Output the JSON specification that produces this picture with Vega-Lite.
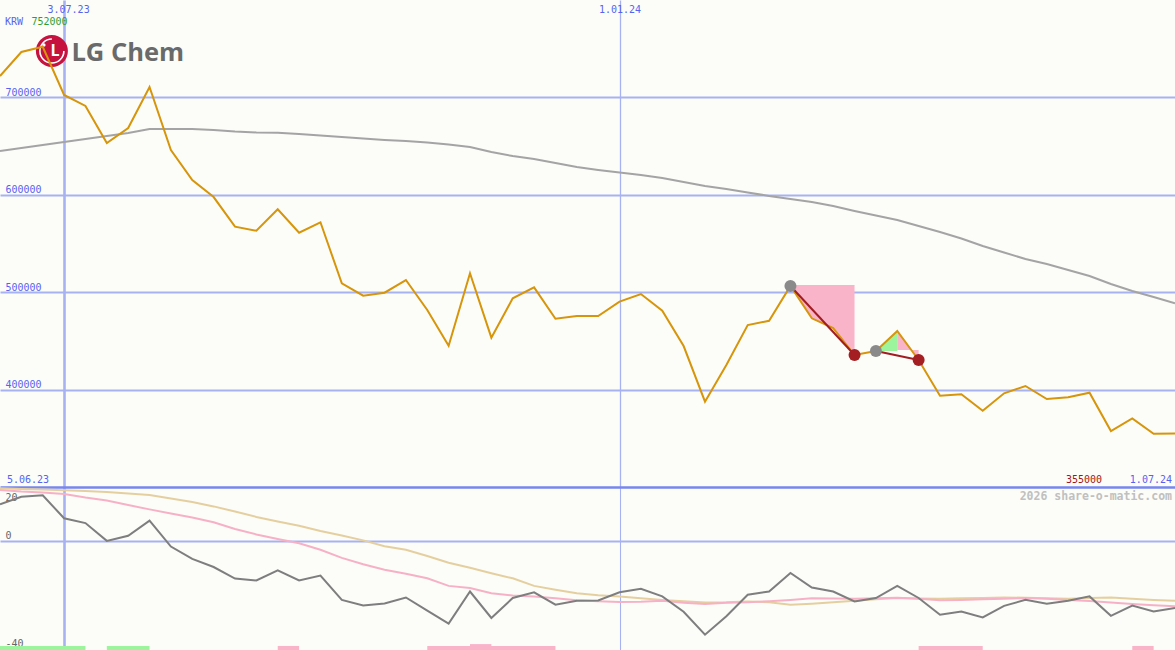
{
  "$schema": "https://vega.github.io/schema/vega-lite/v6.json",
  "padding": 0,
  "spacing": 0,
  "bounds": "flush",
  "background": "#fcfdf8",
  "config": {
    "view": {"stroke": null}
  },
  "datasets": {
    "weekly": [
      {"date": "2023-06-12", "price": 722000, "ma": 645000, "osc": 13.6, "avg1": 18.9, "avg2": 19.5},
      {"date": "2023-06-19", "price": 746600, "ma": 648000, "osc": 16.4, "avg1": 18.3, "avg2": 19.3},
      {"date": "2023-06-26", "price": 752000, "ma": 651100, "osc": 16.9, "avg1": 18.0, "avg2": 19.1},
      {"date": "2023-07-03", "price": 702500, "ma": 654200, "osc": 8.4, "avg1": 17.4, "avg2": 18.8},
      {"date": "2023-07-10", "price": 691200, "ma": 657300, "osc": 6.6, "avg1": 16.1, "avg2": 18.5},
      {"date": "2023-07-17", "price": 653200, "ma": 660400, "osc": 0.0, "avg1": 15.0, "avg2": 18.1},
      {"date": "2023-07-24", "price": 668600, "ma": 663500, "osc": 1.9, "avg1": 13.3, "avg2": 17.6},
      {"date": "2023-07-31", "price": 710700, "ma": 667600, "osc": 7.5, "avg1": 11.7, "avg2": 17.0},
      {"date": "2023-08-07", "price": 646000, "ma": 667600, "osc": -2.1, "avg1": 10.2, "avg2": 15.7},
      {"date": "2023-08-14", "price": 615200, "ma": 667600, "osc": -6.7, "avg1": 8.7, "avg2": 14.4},
      {"date": "2023-08-21", "price": 597700, "ma": 666500, "osc": -9.7, "avg1": 6.9, "avg2": 12.8},
      {"date": "2023-08-28", "price": 567300, "ma": 665000, "osc": -14.0, "avg1": 4.4, "avg2": 10.9},
      {"date": "2023-09-04", "price": 563100, "ma": 664000, "osc": -14.7, "avg1": 2.4, "avg2": 8.9},
      {"date": "2023-09-11", "price": 585100, "ma": 663800, "osc": -10.9, "avg1": 0.7, "avg2": 7.2},
      {"date": "2023-09-18", "price": 561100, "ma": 662400, "osc": -14.7, "avg1": -0.9, "avg2": 5.6},
      {"date": "2023-09-25", "price": 571800, "ma": 660900, "osc": -12.9, "avg1": -3.3, "avg2": 3.7},
      {"date": "2023-10-02", "price": 509100, "ma": 659300, "osc": -21.9, "avg1": -6.3, "avg2": 2.0},
      {"date": "2023-10-09", "price": 496400, "ma": 657800, "osc": -24.0, "avg1": -8.7, "avg2": 0.2},
      {"date": "2023-10-16", "price": 499500, "ma": 656300, "osc": -23.2, "avg1": -10.7, "avg2": -2.0},
      {"date": "2023-10-23", "price": 512500, "ma": 655200, "osc": -21.0, "avg1": -12.2, "avg2": -3.3},
      {"date": "2023-10-30", "price": 481700, "ma": 653700, "osc": -25.9, "avg1": -13.9, "avg2": -5.6},
      {"date": "2023-11-06", "price": 445100, "ma": 651600, "osc": -30.7, "avg1": -16.7, "avg2": -8.1},
      {"date": "2023-11-13", "price": 519400, "ma": 649100, "osc": -18.8, "avg1": -17.5, "avg2": -10.0},
      {"date": "2023-11-20", "price": 453300, "ma": 643900, "osc": -28.6, "avg1": -19.4, "avg2": -12.0},
      {"date": "2023-11-27", "price": 493700, "ma": 639800, "osc": -21.2, "avg1": -20.3, "avg2": -13.9},
      {"date": "2023-12-04", "price": 505000, "ma": 636800, "osc": -19.1, "avg1": -20.6, "avg2": -16.7},
      {"date": "2023-12-11", "price": 472800, "ma": 632600, "osc": -23.7, "avg1": -21.3, "avg2": -18.1},
      {"date": "2023-12-18", "price": 475600, "ma": 628500, "osc": -22.2, "avg1": -22.0, "avg2": -19.4},
      {"date": "2023-12-25", "price": 475600, "ma": 625500, "osc": -22.1, "avg1": -22.4, "avg2": -20.2},
      {"date": "2024-01-01", "price": 490300, "ma": 622900, "osc": -19.1, "avg1": -22.7, "avg2": -20.6},
      {"date": "2024-01-08", "price": 498100, "ma": 620300, "osc": -17.8, "avg1": -22.6, "avg2": -21.3},
      {"date": "2024-01-15", "price": 481000, "ma": 617200, "osc": -20.6, "avg1": -22.2, "avg2": -21.9},
      {"date": "2024-01-22", "price": 444700, "ma": 613100, "osc": -26.3, "avg1": -23.0, "avg2": -22.4},
      {"date": "2024-01-29", "price": 387600, "ma": 609000, "osc": -34.8, "avg1": -23.4, "avg2": -22.9},
      {"date": "2024-02-05", "price": 425300, "ma": 606000, "osc": -28.0, "avg1": -23.0, "avg2": -22.8},
      {"date": "2024-02-12", "price": 466300, "ma": 602400, "osc": -20.0, "avg1": -22.8, "avg2": -22.5},
      {"date": "2024-02-19", "price": 470700, "ma": 598800, "osc": -18.8, "avg1": -22.4, "avg2": -22.8},
      {"date": "2024-02-26", "price": 506400, "ma": 595700, "osc": -11.9, "avg1": -21.9, "avg2": -23.7},
      {"date": "2024-03-04", "price": 473200, "ma": 592600, "osc": -17.3, "avg1": -21.3, "avg2": -23.3},
      {"date": "2024-03-11", "price": 463200, "ma": 588500, "osc": -18.8, "avg1": -21.4, "avg2": -22.8},
      {"date": "2024-03-18", "price": 435500, "ma": 583400, "osc": -22.5, "avg1": -21.5, "avg2": -22.2},
      {"date": "2024-03-25", "price": 439600, "ma": 578800, "osc": -21.2, "avg1": -21.3, "avg2": -21.7},
      {"date": "2024-04-01", "price": 460200, "ma": 574100, "osc": -16.7, "avg1": -21.1, "avg2": -21.2},
      {"date": "2024-04-08", "price": 430400, "ma": 568000, "osc": -21.2, "avg1": -21.5, "avg2": -21.4},
      {"date": "2024-04-15", "price": 393700, "ma": 561800, "osc": -27.4, "avg1": -22.0, "avg2": -21.5},
      {"date": "2024-04-22", "price": 395200, "ma": 555100, "osc": -26.2, "avg1": -21.9, "avg2": -21.3},
      {"date": "2024-04-29", "price": 378300, "ma": 547400, "osc": -28.4, "avg1": -21.7, "avg2": -21.2},
      {"date": "2024-05-06", "price": 396200, "ma": 540800, "osc": -24.1, "avg1": -21.5, "avg2": -21.0},
      {"date": "2024-05-13", "price": 403700, "ma": 534100, "osc": -21.9, "avg1": -21.2, "avg2": -21.1},
      {"date": "2024-05-20", "price": 390300, "ma": 528900, "osc": -23.3, "avg1": -21.5, "avg2": -21.3},
      {"date": "2024-05-27", "price": 392100, "ma": 522800, "osc": -22.2, "avg1": -21.9, "avg2": -21.5},
      {"date": "2024-06-03", "price": 396800, "ma": 516600, "osc": -20.6, "avg1": -22.3, "avg2": -21.2},
      {"date": "2024-06-10", "price": 357500, "ma": 508400, "osc": -27.8, "avg1": -22.9, "avg2": -21.0},
      {"date": "2024-06-17", "price": 370500, "ma": 501200, "osc": -24.0, "avg1": -23.4, "avg2": -21.5},
      {"date": "2024-06-24", "price": 354700, "ma": 495100, "osc": -26.2, "avg1": -23.9, "avg2": -21.9},
      {"date": "2024-07-01", "price": 355000, "ma": 488600, "osc": -24.9, "avg1": -24.3, "avg2": -22.2}
    ],
    "zones": [
      {"date": "2024-02-26", "price": 506400, "base": 507500, "dir": "down", "seg": 1},
      {"date": "2024-03-04", "price": 473200, "base": 507500, "dir": "down", "seg": 1},
      {"date": "2024-03-11", "price": 463200, "base": 507500, "dir": "down", "seg": 1},
      {"date": "2024-03-18", "price": 435500, "base": 507500, "dir": "down", "seg": 1},
      {"date": "2024-03-25", "price": 439600, "base": 439600, "dir": "up", "seg": 2},
      {"date": "2024-04-01", "price": 460200, "base": 439600, "dir": "up", "seg": 2},
      {"date": "2024-04-01", "price": 460200, "base": 440600, "dir": "down", "seg": 3},
      {"date": "2024-04-08", "price": 430400, "base": 440600, "dir": "down", "seg": 3}
    ],
    "signals": [
      {"date": "2024-02-26", "price": 506400, "sig": 1, "role": "start"},
      {"date": "2024-03-18", "price": 435500, "sig": 1, "role": "end"},
      {"date": "2024-03-25", "price": 439600, "sig": 2, "role": "start"},
      {"date": "2024-04-08", "price": 430400, "sig": 2, "role": "end"}
    ],
    "strips": [
      {"date": "2023-06-12", "end": "2023-07-10", "dir": "up", "strength": 1},
      {"date": "2023-07-17", "end": "2023-07-31", "dir": "up", "strength": 1},
      {"date": "2023-09-11", "end": "2023-09-18", "dir": "down", "strength": 1},
      {"date": "2023-10-30", "end": "2023-12-11", "dir": "down", "strength": 1},
      {"date": "2023-11-13", "end": "2023-11-20", "dir": "down", "strength": 2},
      {"date": "2024-04-08", "end": "2024-04-29", "dir": "down", "strength": 1},
      {"date": "2024-06-17", "end": "2024-06-24", "dir": "down", "strength": 1}
    ],
    "logo": [
      {"date": "2023-06-29", "value": 747600, "text": "LG Chem", "mark": "L"}
    ]
  },
  "vconcat": [
    {
      "width": 1175,
      "height": 487,
      "encoding": {
        "x": {
          "field": "date",
          "type": "temporal",
          "scale": {
            "type": "utc",
            "domain": [
              {"year": 2023, "month": 6, "date": 12, "utc": true},
              {"year": 2024, "month": 7, "date": 1, "utc": true}
            ],
            "nice": false
          },
          "axis": {
            "orient": "top",
            "title": null,
            "values": [
              {"year": 2023, "month": 7, "date": 3, "utc": true},
              {"year": 2024, "month": 1, "date": 1, "utc": true}
            ],
            "format": "%-d.%m.%y",
            "domain": false,
            "ticks": false,
            "tickSize": 0,
            "labelPadding": -12.5,
            "labelBaseline": "alphabetic",
            "labelAlign": "center",
            "labelOffset": {"condition": {"test": "utcmonth(datum.value) === 6", "value": 4}, "value": 0},
            "labelColor": "#5763f0",
            "labelFont": "DejaVu Sans Mono",
            "labelFontSize": 10,
            "labelOverlap": false,
            "labelFlush": false,
            "grid": true,
            "gridColor": "#a6b2f2",
            "gridWidth": {"condition": {"test": "utcmonth(datum.value) === 6", "value": 2.6}, "value": 1.3}
          }
        }
      },
      "layer": [
        {
          "data": {"name": "weekly"},
          "mark": {"type": "line", "color": "#d6950a", "strokeWidth": 2, "clip": true, "opacity": 0},
          "encoding": {
            "y": {
              "field": "price",
              "type": "quantitative",
              "scale": {"domain": [300000, 800000], "nice": false, "zero": false},
              "axis": {
                "orient": "left",
                "title": null,
                "values": [400000, 500000, 600000, 700000],
                "format": "d",
                "domain": false,
                "ticks": false,
                "tickSize": 0,
                "labelPadding": -5,
                "labelAlign": "left",
                "labelBaseline": "bottom",
                "labelColor": "#5763f0",
                "labelFont": "DejaVu Sans Mono",
                "labelFontSize": 10,
                "labelOverlap": false,
                "labelFlush": false,
                "grid": true,
                "gridColor": "#a6b2f2",
                "gridWidth": 2
              }
            }
          }
        },
        {
          "data": {"name": "zones"},
          "mark": {"type": "area", "clip": true, "opacity": 1},
          "encoding": {
            "y": {"field": "price", "type": "quantitative", "stack": null},
            "y2": {"field": "base"},
            "color": {"field": "dir", "type": "nominal", "scale": {"domain": ["down", "up"], "range": ["#f9b4ca", "#9cf59c"]}, "legend": null},
            "detail": {"field": "seg"}
          }
        },
        {
          "data": {"name": "logo"},
          "mark": {"type": "point", "shape": "circle", "filled": true, "size": 1024, "color": "#c5123e", "opacity": 1, "strokeWidth": 0},
          "encoding": {
            "y": {"field": "value", "type": "quantitative"}
          }
        },
        {
          "data": {"name": "logo"},
          "mark": {"type": "arc", "theta": 1.5708, "theta2": 6.2832, "innerRadius": 11.2, "outerRadius": 12.8, "color": "#ffffff"},
          "encoding": {
            "y": {"field": "value", "type": "quantitative"}
          }
        },
        {
          "data": {"name": "logo"},
          "mark": {"type": "point", "shape": "circle", "filled": true, "size": 12, "color": "#ffffff", "opacity": 1, "xOffset": -8, "yOffset": -6},
          "encoding": {
            "y": {"field": "value", "type": "quantitative"}
          }
        },
        {
          "data": {"name": "logo"},
          "mark": {"type": "text", "font": "Open Sans", "fontWeight": 700, "fontSize": 16, "color": "#ffffff", "align": "left", "baseline": "alphabetic", "dx": -1.5, "dy": 4.5},
          "encoding": {
            "y": {"field": "value", "type": "quantitative"},
            "text": {"field": "mark"}
          }
        },
        {
          "data": {"name": "logo"},
          "mark": {"type": "text", "font": "Open Sans", "fontWeight": 700, "fontSize": 25.5, "color": "#6a6a6a", "align": "left", "baseline": "alphabetic", "dx": 19.5, "dy": 9.5},
          "encoding": {
            "y": {"field": "value", "type": "quantitative"},
            "text": {"field": "text"}
          }
        },
        {
          "data": {"name": "weekly"},
          "mark": {"type": "line", "color": "#a4a4a4", "strokeWidth": 2, "clip": true},
          "encoding": {
            "y": {"field": "ma", "type": "quantitative"}
          }
        },
        {
          "data": {"name": "weekly"},
          "mark": {"type": "line", "color": "#d6950a", "strokeWidth": 2, "clip": true},
          "encoding": {
            "y": {"field": "price", "type": "quantitative"}
          }
        },
        {
          "data": {"name": "signals"},
          "mark": {"type": "line", "color": "#a11d21", "strokeWidth": 2},
          "encoding": {
            "y": {"field": "price", "type": "quantitative"},
            "detail": {"field": "sig"}
          }
        },
        {
          "data": {"name": "signals"},
          "transform": [{"filter": "datum.role === 'start'"}],
          "mark": {"type": "point", "shape": "circle", "filled": true, "size": 144, "color": "#8a8a8a", "opacity": 1},
          "encoding": {
            "y": {"field": "price", "type": "quantitative"}
          }
        },
        {
          "data": {"name": "signals"},
          "transform": [{"filter": "datum.role === 'end'"}],
          "mark": {"type": "point", "shape": "circle", "filled": true, "size": 144, "color": "#a31f22", "opacity": 1},
          "encoding": {
            "y": {"field": "price", "type": "quantitative"}
          }
        },
        {
          "data": {"values": [{"date": "2023-06-12", "value": 800000, "text": "KRW"}]},
          "mark": {"type": "text", "font": "DejaVu Sans Mono", "fontSize": 10, "color": "#5763f0", "align": "left", "baseline": "alphabetic", "dx": 5, "dy": 25},
          "encoding": {
            "y": {"field": "value", "type": "quantitative"},
            "text": {"field": "text"}
          }
        },
        {
          "data": {"values": [{"date": "2023-06-12", "value": 800000, "text": "752000"}]},
          "mark": {"type": "text", "font": "DejaVu Sans Mono", "fontSize": 10, "color": "#2f9e2f", "align": "left", "baseline": "alphabetic", "dx": 31.5, "dy": 25},
          "encoding": {
            "y": {"field": "value", "type": "quantitative"},
            "text": {"field": "text"}
          }
        },
        {
          "data": {"values": [{"date": "2023-06-12", "value": 300000, "text": "5.06.23"}]},
          "mark": {"type": "text", "font": "DejaVu Sans Mono", "fontSize": 10, "color": "#5763f0", "align": "left", "baseline": "alphabetic", "dx": 7, "dy": -4},
          "encoding": {
            "y": {"field": "value", "type": "quantitative"},
            "text": {"field": "text"}
          }
        },
        {
          "data": {"values": [{"date": "2024-07-01", "value": 300000, "text": "1.07.24"}]},
          "mark": {"type": "text", "font": "DejaVu Sans Mono", "fontSize": 10, "color": "#5763f0", "align": "right", "baseline": "alphabetic", "dx": -3, "dy": -4},
          "encoding": {
            "y": {"field": "value", "type": "quantitative"},
            "text": {"field": "text"}
          }
        },
        {
          "data": {"values": [{"date": "2024-07-01", "value": 300000, "text": "355000"}]},
          "mark": {"type": "text", "font": "DejaVu Sans Mono", "fontSize": 10, "color": "#a0141e", "align": "right", "baseline": "alphabetic", "dx": -73, "dy": -4},
          "encoding": {
            "y": {"field": "value", "type": "quantitative"},
            "text": {"field": "text"}
          }
        }
      ]
    },
    {
      "width": 1175,
      "height": 163,
      "encoding": {
        "x": {
          "field": "date",
          "type": "temporal",
          "scale": {
            "type": "utc",
            "domain": [
              {"year": 2023, "month": 6, "date": 12, "utc": true},
              {"year": 2024, "month": 7, "date": 1, "utc": true}
            ],
            "nice": false
          },
          "axis": {
            "orient": "bottom",
            "title": null,
            "values": [
              {"year": 2023, "month": 7, "date": 3, "utc": true},
              {"year": 2024, "month": 1, "date": 1, "utc": true}
            ],
            "domain": false,
            "ticks": false,
            "labels": false,
            "grid": true,
            "gridColor": "#a6b2f2",
            "gridWidth": {"condition": {"test": "utcmonth(datum.value) === 6", "value": 2.6}, "value": 1.1}
          }
        }
      },
      "layer": [
        {
          "data": {"name": "weekly"},
          "mark": {"type": "line", "color": "#e5cf9e", "strokeWidth": 2, "clip": true},
          "encoding": {
            "y": {
              "field": "avg2",
              "type": "quantitative",
              "scale": {"domain": [-40.5, 20], "nice": false, "zero": false},
              "axis": {
                "orient": "left",
                "title": null,
                "values": [-40, 0, 20],
                "labelExpr": "datum.value < 0 ? '-' + abs(datum.value) : '' + datum.value",
                "domain": false,
                "ticks": false,
                "tickSize": 0,
                "labelPadding": -5,
                "labelAlign": "left",
                "labelBaseline": {"condition": {"test": "datum.value === 20", "value": "top"}, "value": "bottom"},
                "labelOffset": {"condition": {"test": "datum.value === 20", "value": 5}, "value": 0},
                "labelColor": "#666666",
                "labelFont": "DejaVu Sans Mono",
                "labelFontSize": 10,
                "labelOverlap": false,
                "labelFlush": false,
                "grid": true,
                "gridColor": {"condition": {"test": "datum.value === 20", "value": "#7886ee"}, "value": "#a6b2f2"},
                "gridWidth": {"condition": {"test": "datum.value === 20", "value": 2.6}, "value": 2},
                "gridOpacity": {"condition": {"test": "datum.value === -40", "value": 0}, "value": 1}
              }
            }
          }
        },
        {
          "data": {"name": "weekly"},
          "mark": {"type": "line", "color": "#f6b1c7", "strokeWidth": 2, "clip": true},
          "encoding": {
            "y": {"field": "avg1", "type": "quantitative"}
          }
        },
        {
          "data": {"name": "weekly"},
          "mark": {"type": "line", "color": "#7e7e7e", "strokeWidth": 2, "clip": true},
          "encoding": {
            "y": {"field": "osc", "type": "quantitative"}
          }
        },
        {
          "data": {"name": "strips"},
          "mark": {"type": "rect"},
          "encoding": {
            "x2": {"field": "end"},
            "y": {"datum": -39.0},
            "y2": {"datum": -40.5},
            "color": {"field": "dir", "type": "nominal", "scale": {"domain": ["down", "up"], "range": ["#f9b4ca", "#9cf59c"]}, "legend": null}
          }
        },
        {
          "data": {"name": "strips"},
          "transform": [{"filter": "datum.strength > 1"}],
          "mark": {"type": "rect"},
          "encoding": {
            "x2": {"field": "end"},
            "y": {"datum": -38.3},
            "y2": {"datum": -40.5},
            "color": {"field": "dir", "type": "nominal", "scale": {"domain": ["down", "up"], "range": ["#f9b4ca", "#9cf59c"]}, "legend": null}
          }
        },
        {
          "data": {"values": [{"date": "2024-07-01", "value": 20, "text": "2026 share-o-matic.com"}]},
          "mark": {"type": "text", "font": "DejaVu Sans Mono", "fontWeight": "bold", "fontSize": 11.5, "color": "#c0c0c0", "align": "right", "baseline": "alphabetic", "dx": -3, "dy": 13},
          "encoding": {
            "y": {"field": "value", "type": "quantitative"},
            "text": {"field": "text"}
          }
        }
      ]
    }
  ]
}
